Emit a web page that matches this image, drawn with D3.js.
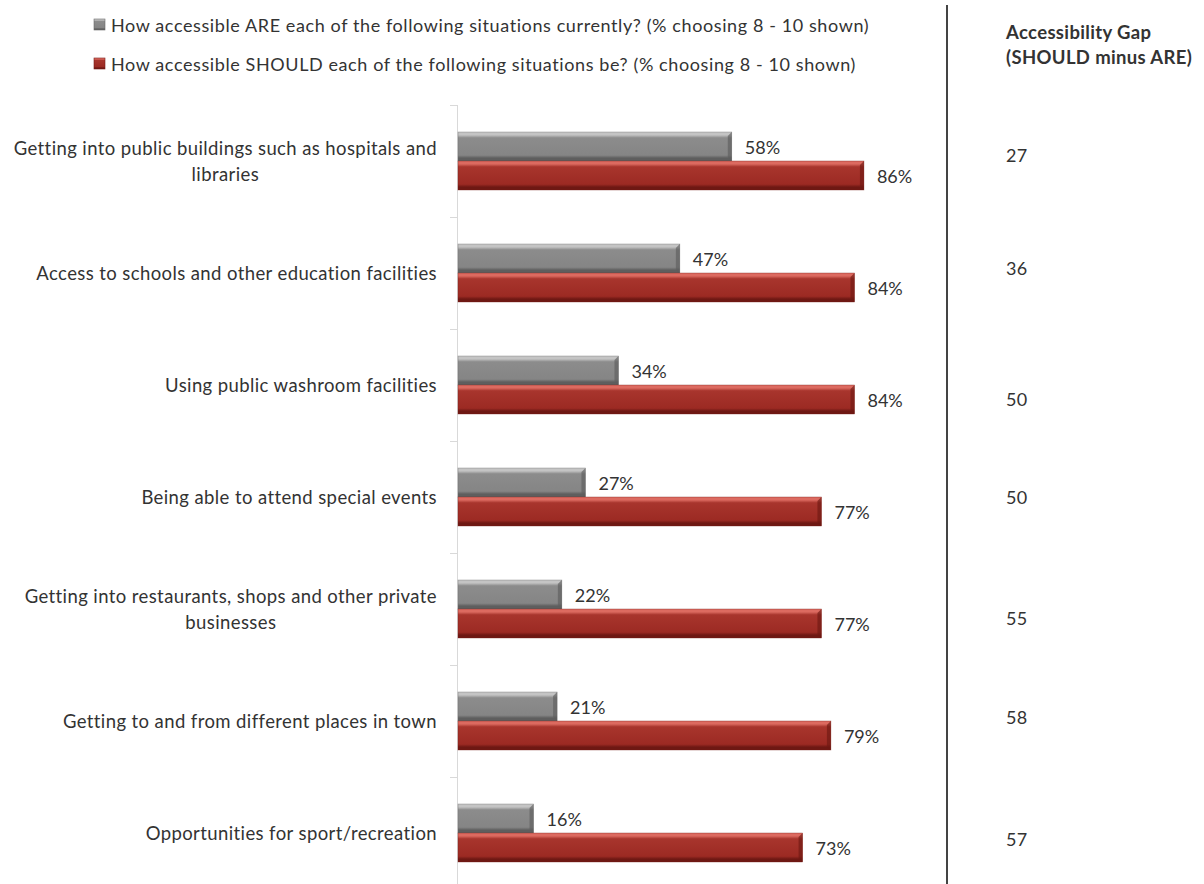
<!DOCTYPE html>
<html>
<head>
<meta charset="utf-8">
<script src="https://cdn.jsdelivr.net/npm/d3@7"></script>
<style>
  html, body { margin: 0; padding: 0; background: #fff; }
  svg { display: block; }
  text { font-family: Lato, "Open Sans", sans-serif; fill: #333; }
</style>
</head>
<body>
<svg id="chart" width="1204" height="884"></svg>
<script>
// Survey items (line breaks mark where a long label wraps)
const categories = [
  "Getting into public buildings such as hospitals and\nlibraries",
  "Access to schools and other education facilities",
  "Using public washroom facilities",
  "Being able to attend special events",
  "Getting into restaurants, shops and other private\nbusinesses",
  "Getting to and from different places in town",
  "Opportunities for sport/recreation"
];
// % choosing 8 - 10
const areValues    = [58, 47, 34, 27, 22, 21, 16];
const shouldValues = [86, 84, 84, 77, 77, 79, 73];
// Accessibility gap column (SHOULD minus ARE, as reported)
const gapValues    = [27, 36, 50, 50, 55, 58, 57];

const seriesKeys  = ["are", "should"];
const seriesNames = [
  "How accessible ARE each of the following situations currently? (% choosing 8 - 10 shown)",
  "How accessible SHOULD each of the following situations be? (% choosing 8 - 10 shown)"
];
const gapTitle = ["Accessibility Gap", "(SHOULD minus ARE)"];

// ---- layout ----
const svg = d3.select("#chart");
const axisX = 458;
const x = d3.scaleLinear().domain([0, 100]).range([axisX, axisX + 472]);
const y = d3.scaleBand().domain(categories).range([105, 889]);
const sub = d3.scaleBand().domain(seriesKeys).range([27, 85]);

const palette = {
  are:    { top: "#c4c4c4", mid: "#8c8c8c", base: "#858585", bottom: "#5e5e5e", edge: "#6a6a6a" },
  should: { top: "#dc6a60", mid: "#a8352d", base: "#9c2a23", bottom: "#6e1813", edge: "#7a1d18" }
};

const defs = svg.append("defs");
seriesKeys.forEach(k => {
  const c = palette[k];
  const g = defs.append("linearGradient")
    .attr("id", "grad-" + k).attr("x1", 0).attr("y1", 0).attr("x2", 0).attr("y2", 1);
  [[0, c.top], [0.1, c.top], [0.2, c.mid], [0.8, c.base], [0.9, c.bottom], [1, c.bottom]]
    .forEach(([o, col]) => g.append("stop").attr("offset", o).attr("stop-color", col));
});

// category axis: line plus boundary ticks between categories
const axis = svg.append("g");
axis.append("line")
  .attr("x1", axisX - 0.5).attr("x2", axisX - 0.5)
  .attr("y1", y.range()[0]).attr("y2", y.range()[1])
  .attr("stroke", "#d9d9d9").attr("stroke-width", 1);
axis.selectAll("line.tick")
  .data(categories.map(c => y(c)))
  .join("line").attr("class", "tick")
  .attr("x1", axisX - 8).attr("x2", axisX)
  .attr("y1", d => d + 0.5).attr("y2", d => d + 0.5)
  .attr("stroke", "#d9d9d9");

// category labels, right aligned; wrapped lines are centred on each other
const labelRight = axisX - 21;
const labelG = svg.append("g").attr("font-size", 18.5).attr("letter-spacing", 0.4);
categories.forEach(c => {
  const lines = c.split("\n");
  const t = labelG.append("text").attr("text-anchor", "middle");
  const spans = lines.map(l => t.append("tspan").text(l));
  const widths = spans.map(s => s.node().getComputedTextLength());
  const cx = labelRight - d3.max(widths) / 2;
  const lh = 26;
  const cy = y(c) + y.bandwidth() / 2;
  spans.forEach((s, i) => s.attr("x", cx)
    .attr("y", cy + (i - (lines.length - 1) / 2) * lh)
    .attr("dominant-baseline", "central"));
});

// bars
const rows = categories.map((c, i) => ({ c, are: areValues[i], should: shouldValues[i] }));
const barG = svg.append("g");
rows.forEach(r => {
  seriesKeys.forEach(k => {
    const x0 = x(0), x1 = x(r[k]);
    const y0 = y(r.c) + sub(k), h = sub.bandwidth(), y1 = y0 + h;
    const c = palette[k];
    barG.append("rect")
      .attr("x", x0).attr("y", y0).attr("width", x1 - x0).attr("height", h)
      .attr("fill", `url(#grad-${k})`)
      .attr("stroke", c.edge).attr("stroke-width", 0.6).attr("stroke-opacity", 0.6);
    // bevelled end cap
    const b = 4;
    barG.append("path")
      .attr("d", `M${x1 - b},${y0 + b}L${x1},${y0}L${x1},${y1}L${x1 - b},${y1 - b}Z`)
      .attr("fill", c.bottom).attr("opacity", 0.65);
    // value label
    barG.append("text")
      .attr("x", x1 + 13).attr("y", y0 + h / 2)
      .attr("dominant-baseline", "central")
      .attr("font-size", 18)
      .text(r[k] + "%");
  });
});

// legend
const legend = svg.append("g");
seriesKeys.forEach((k, i) => {
  const ly = 24.5 + i * 39;
  legend.append("rect")
    .attr("x", 94).attr("y", ly - 5.5).attr("width", 11).attr("height", 11)
    .attr("fill", `url(#grad-${k})`).attr("stroke", palette[k].edge).attr("stroke-width", 0.6);
  legend.append("text")
    .attr("x", 111).attr("y", ly).attr("dominant-baseline", "central")
    .attr("font-size", 18).attr("letter-spacing", 0.6).text(seriesNames[i]);
});

// divider and gap column
svg.append("line")
  .attr("x1", 947).attr("x2", 947).attr("y1", 5).attr("y2", 884)
  .attr("stroke", "#444").attr("stroke-width", 2);

const gapX = 1006;
const gapG = svg.append("g").attr("font-size", 18.5).attr("letter-spacing", 0.35);
gapTitle.forEach((t, i) => gapG.append("text")
  .attr("x", gapX).attr("y", 32 + i * 25).attr("dominant-baseline", "central")
  .attr("font-weight", "bold").text(t));
const gapNudge = [-6, -5, 14, 0, 9, -4, 6];
gapG.selectAll("text.gap")
  .data(gapValues)
  .join("text").attr("class", "gap")
  .attr("x", gapX)
  .attr("y", (d, i) => y(categories[i]) + y.bandwidth() / 2 + gapNudge[i])
  .attr("dominant-baseline", "central")
  .attr("font-size", 18)
  .text(d => d);
</script>
</body>
</html>
